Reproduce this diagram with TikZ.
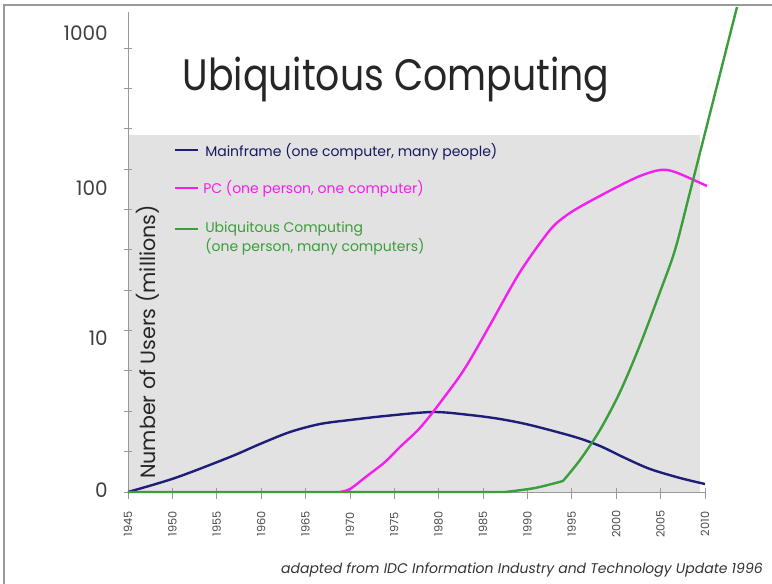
\documentclass[tikz,border=0pt]{standalone}
\usepackage{fontspec}
\setmainfont{Poppins}
\usetikzlibrary{positioning}

\definecolor{mainblue}{HTML}{1E1E78}
\definecolor{pcpink}{HTML}{F41EEE}
\definecolor{ubigreen}{HTML}{3A9E3A}
\definecolor{panel}{HTML}{E2E2E2}
\definecolor{axisgray}{HTML}{999999}

\tikzset{
  mainframe/.style={mainblue, line width=1.8pt, line join=round},
  pc/.style={pcpink, line width=1.8pt, line join=round},
  ubi/.style={ubigreen, line width=1.8pt, line join=round},
  ticklabel/.style={anchor=east, inner sep=0pt, text=black!75, font=\fontsize{15}{15}\selectfont},
  yearlabel/.style={rotate=90, inner sep=0pt, text=black!70, font=\fontsize{8.5}{8.5}\selectfont},
  legendtext/.style={anchor=west, inner sep=0pt, align=left, font=\fontsize{10.5}{12}\selectfont}
}

\begin{document}
\begin{tikzpicture}[x=0.75pt, y=-0.75pt]
\useasboundingbox (0,0) rectangle (772,584);

% frame on the left and the top
\draw[axisgray, line width=0.8pt] (4,584) -- (4,5) -- (772,5);

% gray panel behind the curves
\fill[panel] (128,135) rectangle (700,492);

% title
\node[font=\fontsize{33}{33}\selectfont, text=black!85, xscale=0.86] (title) at (396,80) {Ubiquitous Computing};

% y axis with its ticks
\draw[axisgray, line width=0.6pt] (128,12) -- (128,492);
\foreach \k in {0,...,11}
    \draw[axisgray, line width=0.6pt] (124,48+40.36*\k) -- (132,48+40.36*\k);
\node[ticklabel] (y1000) at (108,33) {1000};
\node[ticklabel] (y100) at (108,188) {100};
\node[ticklabel] (y10) at (108,338) {10};
\node[ticklabel] (y0) at (108,490) {0};

% x axis with the years
\draw[axisgray, line width=0.6pt] (128,492) -- (705,492);
\foreach \y [count=\i from 0] in {1945,1950,...,2010} {
    \draw[axisgray, line width=0.6pt] (128+44.38*\i,488) -- (128+44.38*\i,499);
    \node[yearlabel] (yr\y) at (128+44.38*\i,524) {\y};
}

% axis title
\node[rotate=90, font=\fontsize{15.5}{15.5}\selectfont, text=black!85] (ylabel) at (148,342) {Number of Users (millions)};

% legend
\node[legendtext, text=mainblue!80!black] (legmain) at (205,152) {Mainframe (one computer, many people)};
\node[legendtext, text=pcpink] (legpc) at (203,189) {PC (one person, one computer)};
\node[legendtext, text=ubigreen, anchor=north west] (legubi) at (205,222) {Ubiquitous Computing\\(one person, many computers)};
\coordinate (lm) at (175,150);
\coordinate (lp) at (175,188);
\coordinate (lu) at (175,229);
\draw[mainblue, line width=1.2pt] (lm) -- ++(23,0);
\draw[pcpink, line width=1.2pt] (lp) -- ++(23,0);
\draw[ubigreen, line width=1.2pt] (lu) -- ++(23,0);

% the three curves
\draw[mainframe] plot[smooth, tension=0.5] coordinates {(128,492) (175,478) (230,457) (260,444) (290,432) (320,424) (350,420) (385,416) (433,412) (470,415) (500,419) (530,425) (575,437) (600,446) (625,458) (650,469) (680,478) (705,484)};
\draw[pc] plot[smooth, tension=0.5] coordinates {(340,492) (350,489) (367,476) (385,462) (400,447) (418,430) (433,412) (457,380) (470,360) (490,325) (520,272) (550,230) (567,215) (585,204) (617,187) (640,176) (660,170) (675,172) (707,186)};
\draw[ubi] (128,492) -- (505,492) plot[smooth, tension=0.5] coordinates {(505,492) (535,488) (563,481)}
    plot[smooth, tension=0.5] coordinates {(563,481) (580,460) (600,430) (620,392) (640,345) (660,292) (675,250) (690,192) (737,7)};

% source note
\node[anchor=east, inner sep=0pt, text=black!80, font=\itshape\fontsize{10.5}{10.5}\selectfont] (note) at (763,570) {adapted from IDC Information Industry and Technology Update 1996};
\end{tikzpicture}
\end{document}
